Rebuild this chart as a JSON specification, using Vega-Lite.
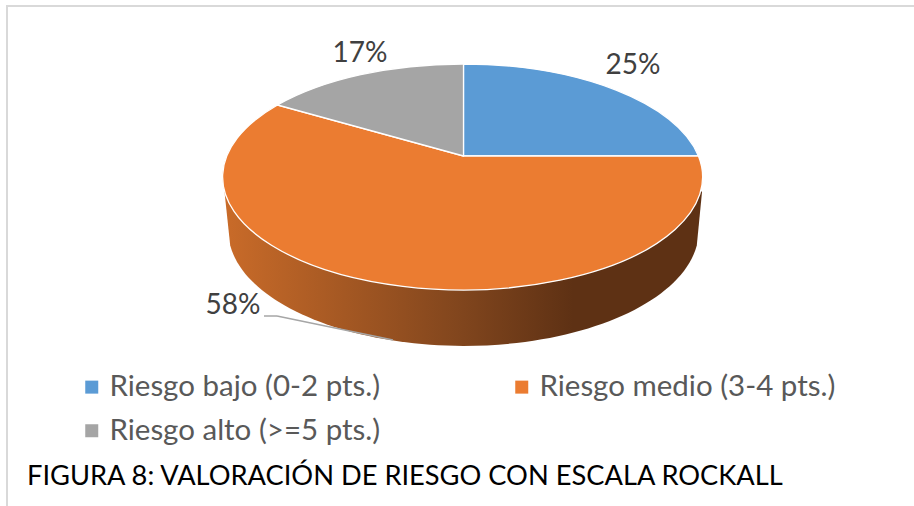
{
"$schema":"https://vega.github.io/schema/vega-lite/v6.json",
"width":914,"height":506,"padding":0,"autosize":{"type":"none"},"background":"white",
"config":{"view":{"stroke":null}},
"data":{"values":[
{"riesgo":"Riesgo bajo (0-2 pts.)","pct":0.25},
{"riesgo":"Riesgo medio (3-4 pts.)","pct":0.58},
{"riesgo":"Riesgo alto (>=5 pts.)","pct":0.17}]},
"encoding":{
"x":{"datum":463.5,"type":"quantitative","scale":{"domain":[0,914],"nice":false,"zero":false},"axis":null},
"y":{"datum":177,"type":"quantitative","scale":{"domain":[506,0],"nice":false,"zero":false},"axis":null},
"color":{"field":"riesgo","type":"nominal","scale":{"domain":["Riesgo bajo (0-2 pts.)","Riesgo medio (3-4 pts.)","Riesgo alto (>=5 pts.)"],"range":["#5b9bd5","#eb7c31","#a5a5a5"]},
  "legend":{"title":null,"orient":"none","direction":"horizontal","legendX":77,"legendY":372,"columns":2,"symbolType":"square","symbolSize":169,"symbolStrokeWidth":0,"labelFont":"Lato","labelFontSize":29.5,"labelColor":"#595959","labelLimit":400,"rowPadding":13,"columnPadding":126,"gridAlign":"each","labelOffset":3}}
},
"layer":[
{"transform":[{"filter":"datum.pct==0.58"}],
 "mark":{"type":"point","filled":true,"opacity":1,"size":230400,"strokeWidth":0,
 "shape":"M-.996 .06L-.972 .285A.98 .48 0 0 0 .972 .285L.994 .06Z",
 "fill":{"gradient":"linear","x1":0,"y1":0,"x2":1,"y2":0,"stops":[{"offset":0,"color":"#c96b29"},{"offset":0.5,"color":"#80451d"},{"offset":0.73,"color":"#5e3114"},{"offset":1,"color":"#5e3114"}]}},
 "encoding":{"color":{"value":null}}},
{"transform":[{"filter":"datum.pct==0.25"}],"mark":{"type":"point","filled":true,"opacity":1,"size":230400,"stroke":"white","strokeWidth":1.3,"shape":"M0 -.0875L0 -.4708A1 .4708 0 0 1 .979 -.0875Z"}},
{"transform":[{"filter":"datum.pct==0.58"}],"mark":{"type":"point","filled":true,"opacity":1,"size":230400,"stroke":"white","strokeWidth":1.3,"shape":"M0 -.0875L.979 -.0875A1 .4708 0 1 1 -.775 -.3Z"}},
{"transform":[{"filter":"datum.pct==0.17"}],"mark":{"type":"point","filled":true,"opacity":1,"size":230400,"stroke":"white","strokeWidth":1.3,"shape":"M0 -.0875L-.775 -.3A1 .4708 0 0 1 0 -.4708Z"}},
{"transform":[{"filter":"datum.pct==0.25"}],"mark":{"type":"text","font":"Lato","fontSize":28,"baseline":"middle"},"encoding":{"color":{"value":"#404040"},"text":{"field":"pct","type":"quantitative","format":".0%"},"x":{"datum":633},"y":{"datum":66}}},
{"transform":[{"filter":"datum.pct==0.17"}],"mark":{"type":"text","font":"Lato","fontSize":28,"baseline":"middle"},"encoding":{"color":{"value":"#404040"},"text":{"field":"pct","type":"quantitative","format":".0%"},"x":{"datum":360},"y":{"datum":54}}},
{"transform":[{"filter":"datum.pct==0.58"}],"mark":{"type":"text","font":"Lato","fontSize":28,"baseline":"middle"},"encoding":{"color":{"value":"#404040"},"text":{"field":"pct","type":"quantitative","format":".0%"},"x":{"datum":233},"y":{"datum":306}}},
{"transform":[{"filter":"datum.pct==0.58"}],"mark":{"type":"rule","strokeWidth":1.5},"encoding":{"color":{"value":"#a6a6a6"},"x":{"datum":264},"x2":{"datum":277},"y":{"datum":316},"y2":{"datum":316}}},
{"transform":[{"filter":"datum.pct==0.58"}],"mark":{"type":"rule","strokeWidth":1.5},"encoding":{"color":{"value":"#a6a6a6"},"x":{"datum":277},"x2":{"datum":393},"y":{"datum":316},"y2":{"datum":340}}},
{"transform":[{"filter":"datum.pct==0.58"}],"mark":{"type":"rule","strokeWidth":2},"encoding":{"color":{"value":"#d9d9d9"},"x":{"datum":7},"y":{"datum":5},"y2":{"datum":506}}},
{"transform":[{"filter":"datum.pct==0.58"}],"mark":{"type":"rule","strokeWidth":2},"encoding":{"color":{"value":"#d9d9d9"},"x":{"datum":6},"x2":{"datum":914},"y":{"datum":6},"y2":{"datum":6}}},
{"transform":[{"filter":"datum.pct==0.58"}],"mark":{"type":"text","font":"Lato","fontSize":27.25,"align":"left","baseline":"middle"},"encoding":{"color":{"value":"#000000"},"text":{"value":"FIGURA 8: VALORACIÓN DE RIESGO CON ESCALA ROCKALL"},"x":{"datum":27},"y":{"datum":477}}}
]
}
